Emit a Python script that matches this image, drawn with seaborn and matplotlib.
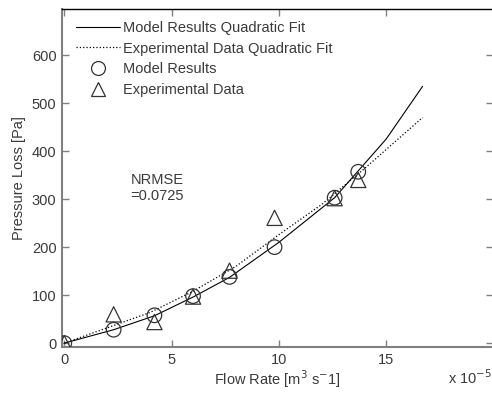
import numpy as np
import pandas as pd
import matplotlib
matplotlib.use("Agg")
import matplotlib.pyplot as plt
from matplotlib.lines import Line2D
import seaborn as sns

# Flow rate in units of 1e-5 m^3/s
flow = [0.0, 2.3, 4.2, 6.0, 7.7, 9.8, 12.6, 13.7]
model_loss = [0, 28, 58, 98, 138, 200, 303, 357]
exp_loss = [0, 60, 44, 97, 151, 261, 302, 340]

# Quadratic fit curves
model_fit_x = [0, 2.3, 4.2, 6.0, 7.7, 10.0, 12.6, 15.0, 16.7]
model_fit_y = [0, 28, 57, 96, 137, 210, 303, 425, 535]
exp_fit_x = [0, 2, 4, 6, 8, 10, 12, 14, 16.7]
exp_fit_y = [0, 32, 64, 108, 160, 226, 289, 364, 470]

x_ticks = [0, 5, 10, 15]
y_ticks = [0, 100, 200, 300, 400, 500, 600]

sns.set_style("ticks")
plt.rcParams['font.family'] = ['Liberation Sans', 'DejaVu Sans']
TXT = '#3a3a3a'
plt.rcParams['text.color'] = TXT

fig = plt.figure(figsize=(4.92, 3.96), dpi=100)
ax = fig.add_axes([62/492, 49/396, 431/492, 338/396])

sns.lineplot(x=model_fit_x, y=model_fit_y, ax=ax, color='black', lw=0.8,
             linestyle='-', sort=False)
sns.lineplot(x=exp_fit_x, y=exp_fit_y, ax=ax, color='black', lw=0.9,
             linestyle=':', sort=False)
sns.scatterplot(x=flow, y=model_loss, ax=ax, marker='o', s=110,
                facecolor='none', edgecolor='#333333', linewidth=0.9, zorder=3)
sns.scatterplot(x=flow, y=exp_loss, ax=ax, marker='^', s=120,
                facecolor='none', edgecolor='#333333', linewidth=0.9, zorder=3)

ax.set_xlim(-0.107, 19.98)
ax.set_ylim(-8, 696)
ax.set_xticks(x_ticks)
ax.set_yticks(y_ticks)
ax.tick_params(direction='in', length=5, width=1, colors='#808080',
               labelcolor=TXT, labelsize=10.5, top=True, right=True, pad=4)
for s in ['left', 'bottom']:
    ax.spines[s].set_color('#808080')
    ax.spines[s].set_linewidth(1.5)
ax.spines['top'].set_color('black')
ax.spines['top'].set_linewidth(1)
ax.spines['right'].set_color('#808080')

ax.set_xlabel('Flow Rate [m$^3$ s$^{-}$1]', fontsize=10.5, color=TXT, labelpad=1)
ax.set_ylabel('Pressure Loss [Pa]', fontsize=10.5, color=TXT, labelpad=4)

ax.text(4.32, 323, 'NRMSE\n=0.0725', ha='center', va='center',
        multialignment='center', fontsize=10.5, color=TXT)
fig.text(448/492, 1 - 378/396, 'x 10$^{-5}$', ha='left', va='center',
         fontsize=10.5, color=TXT)

handles = [
    Line2D([], [], color='black', lw=0.8, linestyle='-'),
    Line2D([], [], color='black', lw=0.9, linestyle=':'),
    Line2D([], [], color='#333333', marker='o', markersize=10, markerfacecolor='none', lw=0, markeredgewidth=0.9),
    Line2D([], [], color='#333333', marker='^', markersize=10, markerfacecolor='none', lw=0, markeredgewidth=0.9),
]
labels = ['Model Results Quadratic Fit', 'Experimental Data Quadratic Fit',
          'Model Results', 'Experimental Data']
leg = ax.legend(handles, labels, loc='upper left', frameon=False,
                bbox_to_anchor=(14/431, 1 - 12/338), borderaxespad=0,
                handlelength=3.0, handletextpad=0.2, labelspacing=0.45,
                fontsize=10.5, borderpad=0)
for t in leg.get_texts():
    t.set_color(TXT)

fig.savefig('out.png', dpi=100)
